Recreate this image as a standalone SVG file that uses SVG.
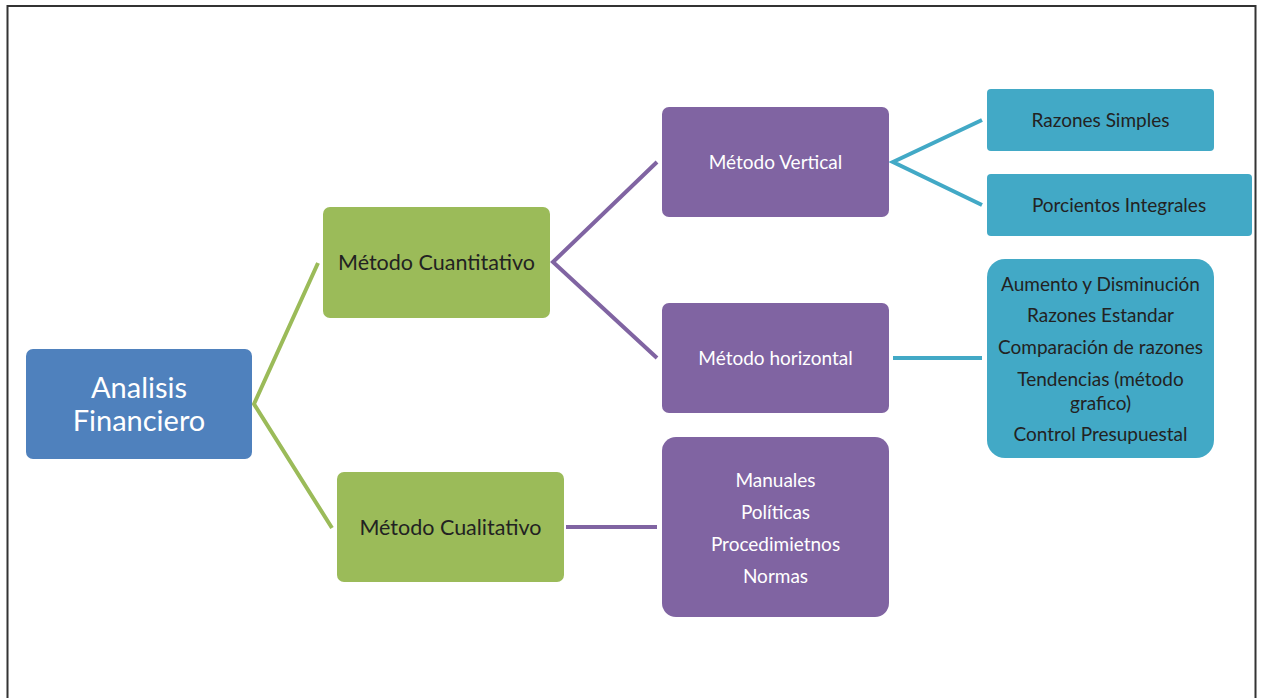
<svg xmlns="http://www.w3.org/2000/svg" width="1261" height="698" viewBox="0 0 1261 698">
  <style>
    .frame { fill: none; stroke: #333333; stroke-width: 2; }
    .blue { fill: #4F81BD; }
    .green { fill: #9BBB59; }
    .purple { fill: #8064A2; }
    .teal { fill: #42A9C6; }
    text { font-family: Lato, "Liberation Sans", sans-serif; text-anchor: middle; dominant-baseline: central; }
    .light { fill: #FFFFFF; }
    .dark { fill: #222222; }
    .big { font-size: 29px; }
    .mid { font-size: 21.5px; }
    .small { font-size: 19px; }
    .c-green { stroke: #9BBB59; stroke-width: 4; fill: none; }
    .c-purple { stroke: #8064A2; stroke-width: 4; fill: none; }
    .c-teal { stroke: #42A9C6; stroke-width: 4; fill: none; }
  </style>
  <rect x="0" y="0" width="1261" height="698" fill="#FFFFFF"/>
  <!-- page border (bottom edge runs off the page) -->
  <path class="frame" d="M7.5 700 V6 H1255.5 V700"/>

  <g id="connectors">
    <polyline class="c-green" points="318,263 254,404 332,528"/>
    <polyline class="c-purple" points="657,162 553,262 657,358"/>
    <line class="c-purple" x1="566" y1="527" x2="657" y2="527"/>
    <polyline class="c-teal" points="982,120 893,162 982,205"/>
    <line class="c-teal" x1="893" y1="358" x2="982" y2="358"/>
  </g>

  <g id="analisis-financiero">
    <rect class="blue" x="26" y="349" width="226" height="110" rx="7"/>
    <text class="light big" x="139" y="386">Analisis</text>
    <text class="light big" x="139" y="419">Financiero</text>
  </g>

  <g id="metodo-cuantitativo">
    <rect class="green" x="323" y="207" width="227" height="111" rx="7"/>
    <text class="dark mid" x="436.5" y="262">Método Cuantitativo</text>
  </g>

  <g id="metodo-cualitativo">
    <rect class="green" x="337" y="472" width="227" height="110" rx="7"/>
    <text class="dark mid" x="450.5" y="527">Método Cualitativo</text>
  </g>

  <g id="metodo-vertical">
    <rect class="purple" x="662" y="107" width="227" height="110" rx="7"/>
    <text class="light small" x="775.5" y="161">Método Vertical</text>
  </g>

  <g id="metodo-horizontal">
    <rect class="purple" x="662" y="303" width="227" height="110" rx="7"/>
    <text class="light small" x="775.5" y="357">Método horizontal</text>
  </g>

  <g id="cualitativo-detalle">
    <rect class="purple" x="662" y="437" width="227" height="180" rx="14"/>
    <text class="light small" x="775.5" y="479">Manuales</text>
    <text class="light small" x="775.5" y="511">Políticas</text>
    <text class="light small" x="775.5" y="543">Procedimietnos</text>
    <text class="light small" x="775.5" y="575">Normas</text>
  </g>

  <g id="razones-simples">
    <rect class="teal" x="987" y="89" width="227" height="62" rx="4"/>
    <text class="dark small" x="1100.5" y="119">Razones Simples</text>
  </g>

  <g id="porcientos-integrales">
    <rect class="teal" x="987" y="174" width="265" height="62" rx="4"/>
    <text class="dark small" x="1119" y="204">Porcientos Integrales</text>
  </g>

  <g id="horizontal-detalle">
    <rect class="teal" x="987" y="259" width="227" height="199" rx="18"/>
    <text class="dark small" x="1100.5" y="283">Aumento y Disminución</text>
    <text class="dark small" x="1100.5" y="314">Razones Estandar</text>
    <text class="dark small" x="1100.5" y="346">Comparación de razones</text>
    <text class="dark small" x="1100.5" y="378">Tendencias (método</text>
    <text class="dark small" x="1100.5" y="402">grafico)</text>
    <text class="dark small" x="1100.5" y="433">Control Presupuestal</text>
  </g>
</svg>
